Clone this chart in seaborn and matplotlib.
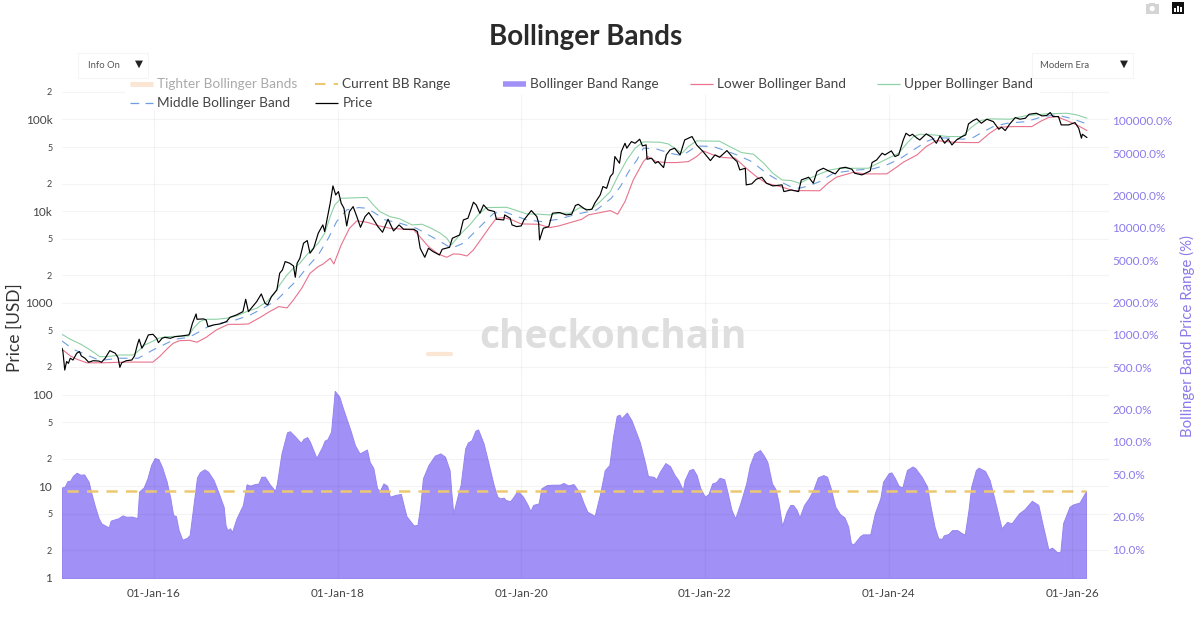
import matplotlib
matplotlib.use("Agg")
import matplotlib.pyplot as plt
from matplotlib.lines import Line2D
from matplotlib.patches import Rectangle, Circle
from matplotlib.ticker import FixedLocator, FixedFormatter, NullLocator
import seaborn as sns

# values, x in decimal years
price_years = [
    2015.00, 2015.01, 2015.03, 2015.05, 2015.07, 2015.09, 2015.12, 2015.16, 2015.19, 2015.21, 2015.25, 2015.29,
    2015.34, 2015.40, 2015.43, 2015.47, 2015.52, 2015.58, 2015.61, 2015.63, 2015.65, 2015.70, 2015.76, 2015.79,
    2015.82, 2015.84, 2015.87, 2015.90, 2015.94, 2015.99, 2016.03, 2016.05, 2016.09, 2016.12, 2016.18, 2016.23,
    2016.30, 2016.38, 2016.39, 2016.42, 2016.46, 2016.47, 2016.54, 2016.57, 2016.59, 2016.65, 2016.72, 2016.79,
    2016.83, 2016.90, 2016.97, 2017.00, 2017.03, 2017.06, 2017.12, 2017.17, 2017.21, 2017.24, 2017.28, 2017.34,
    2017.37, 2017.40, 2017.43, 2017.48, 2017.52, 2017.54, 2017.56, 2017.59, 2017.63, 2017.67, 2017.70, 2017.74,
    2017.79, 2017.84, 2017.86, 2017.92, 2017.95, 2017.98, 2018.01, 2018.04, 2018.07, 2018.10, 2018.13, 2018.17,
    2018.21, 2018.25, 2018.30, 2018.34, 2018.39, 2018.44, 2018.49, 2018.55, 2018.61, 2018.67, 2018.72, 2018.83,
    2018.87, 2018.90, 2018.95, 2018.99, 2019.04, 2019.11, 2019.14, 2019.22, 2019.25, 2019.33, 2019.37, 2019.42,
    2019.48, 2019.51, 2019.55, 2019.59, 2019.64, 2019.71, 2019.73, 2019.81, 2019.82, 2019.88, 2019.90, 2019.95,
    2020.00, 2020.03, 2020.11, 2020.17, 2020.19, 2020.20, 2020.24, 2020.30, 2020.34, 2020.40, 2020.42, 2020.49,
    2020.55, 2020.59, 2020.62, 2020.68, 2020.71, 2020.77, 2020.80, 2020.86, 2020.89, 2020.93, 2020.97, 2021.00,
    2021.02, 2021.07, 2021.09, 2021.13, 2021.15, 2021.20, 2021.24, 2021.29, 2021.32, 2021.36, 2021.37, 2021.42,
    2021.46, 2021.49, 2021.55, 2021.58, 2021.62, 2021.67, 2021.73, 2021.78, 2021.86, 2021.91, 2021.98, 2022.06,
    2022.11, 2022.16, 2022.24, 2022.31, 2022.35, 2022.38, 2022.44, 2022.45, 2022.51, 2022.56, 2022.62, 2022.67,
    2022.74, 2022.84, 2022.86, 2022.94, 2023.02, 2023.05, 2023.13, 2023.18, 2023.22, 2023.25, 2023.29, 2023.34,
    2023.42, 2023.47, 2023.53, 2023.60, 2023.63, 2023.71, 2023.80, 2023.82, 2023.87, 2023.93, 2023.96, 2024.03,
    2024.07, 2024.11, 2024.16, 2024.19, 2024.23, 2024.26, 2024.31, 2024.34, 2024.41, 2024.47, 2024.52, 2024.56,
    2024.61, 2024.65, 2024.69, 2024.74, 2024.80, 2024.84, 2024.87, 2024.92, 2024.96, 2025.01, 2025.07, 2025.14,
    2025.20, 2025.23, 2025.27, 2025.32, 2025.38, 2025.43, 2025.49, 2025.53, 2025.61, 2025.67, 2025.72, 2025.76,
    2025.79, 2025.85, 2025.88, 2025.96, 2026.03, 2026.07, 2026.10, 2026.11, 2026.16,
]
price_usd = [
    320, 294, 185, 229, 219, 249, 238, 282, 294, 264, 249, 225,
    234, 232, 225, 249, 301, 282, 253, 198, 222, 234, 238, 264,
    347, 401, 320, 362, 447, 454, 411, 368, 411, 421, 411, 428,
    435, 447, 466, 598, 757, 662, 668, 650, 550, 574, 589, 624,
    696, 738, 802, 1094, 802, 873, 1031, 1250, 989, 948, 1169, 1383,
    2099, 2286, 2818, 2700, 2525, 1901, 2700, 3062, 4467, 4775, 3475, 3936,
    5741, 7074, 5984, 12190, 18830, 15020, 16330, 12190, 10750, 6897, 9886, 11200,
    8717, 6668, 8717, 9638, 8155, 6780, 5885, 8155, 6081, 7074, 6345, 6345,
    5984, 3935, 3139, 3935, 3622, 3328, 3838, 4036, 5060, 5503, 8017, 8360,
    12500, 11690, 9480, 11690, 10300, 9886, 8155, 8017, 9090, 8360, 7074, 6780,
    6897, 8017, 10140, 8717, 7378, 4853, 6501, 6780, 9480, 9638, 9638, 9090,
    9247, 11490, 11880, 10750, 10300, 10480, 12190, 15020, 18530, 17750, 23810, 25880,
    39350, 33270, 44570, 54950, 48530, 57280, 54950, 60810, 51400, 52720, 36810, 37760,
    33270, 34670, 29850, 41020, 46450, 48530, 41020, 59700, 65010, 52720, 44570, 35560,
    41020, 38640, 45710, 37760, 34670, 28120, 29330, 19320, 19820, 22280, 23400, 20140,
    18830, 19320, 16330, 17020, 16330, 21880, 23400, 20140, 26980, 28120, 29330, 27670,
    25470, 29330, 30060, 28640, 25880, 24830, 27420, 33830, 36150, 42770, 41020, 45360,
    39350, 41020, 59700, 70630, 66070, 68870, 62370, 59700, 69500, 63970, 54950, 66070,
    54950, 60810, 52720, 59700, 65010, 67760, 89330, 97050, 101400, 90780, 100500, 94640,
    78160, 82200, 75510, 89330, 104700, 100500, 103000, 113800, 116700, 109200, 110100, 118800,
    107400, 107400, 87100, 87100, 92300, 80100, 62370, 68900, 63400,
]

upper_years = [
    2015.00, 2015.09, 2015.20, 2015.29, 2015.36, 2015.41, 2015.49, 2015.63, 2015.78, 2015.85, 2015.90, 2015.98,
    2016.05, 2016.14, 2016.38, 2016.43, 2016.50, 2016.57, 2016.68, 2016.79, 2016.90, 2017.01, 2017.12, 2017.23,
    2017.30, 2017.37, 2017.45, 2017.52, 2017.59, 2017.68, 2017.79, 2017.86, 2017.92, 2017.97, 2018.04, 2018.17,
    2018.32, 2018.39, 2018.46, 2018.57, 2018.68, 2018.81, 2018.92, 2019.02, 2019.12, 2019.19, 2019.24, 2019.33,
    2019.44, 2019.53, 2019.62, 2019.84, 2019.95, 2020.06, 2020.20, 2020.31, 2020.41, 2020.53, 2020.64, 2020.75,
    2020.86, 2020.97, 2021.06, 2021.15, 2021.24, 2021.33, 2021.51, 2021.60, 2021.67, 2021.75, 2021.82, 2021.91,
    2022.16, 2022.27, 2022.40, 2022.53, 2022.64, 2022.74, 2022.84, 2022.94, 2023.03, 2023.14, 2023.25, 2023.36,
    2023.47, 2023.62, 2023.78, 2023.85, 2023.96, 2024.11, 2024.20, 2024.27, 2024.34, 2024.49, 2024.65, 2024.80,
    2024.89, 2025.00, 2025.10, 2025.32, 2025.50, 2025.72, 2025.94, 2026.05, 2026.16,
]
upper_usd = [
    454, 401, 356, 314, 282, 259, 259, 270, 270, 312, 347, 378,
    411, 428, 435, 528, 624, 662, 662, 679, 720, 802, 873, 1031,
    1219, 1567, 2015, 2383, 2700, 3475, 4467, 5741, 8717, 11690, 13800, 13950,
    14100, 11690, 9886, 8717, 8220, 7074, 7190, 6501, 5741, 5060, 4276, 5503,
    7074, 9090, 10930, 11010, 10140, 9320, 9247, 9090, 9480, 9480, 10930, 10300,
    12700, 16330, 24830, 36150, 48530, 56890, 56360, 54080, 48530, 42770, 50580, 58290,
    57810, 50580, 43450, 41690, 33270, 25880, 21880, 21530, 20140, 22800, 25470, 28120,
    29330, 29330, 29330, 31910, 36150, 42770, 54950, 65010, 68870, 67760, 65010, 65010,
    80100, 97050, 101400, 100500, 110100, 114800, 116700, 112000, 103000,
]

middle_years = [
    2015.00, 2015.12, 2015.27, 2015.40, 2015.45, 2015.63, 2015.83, 2015.99, 2016.14, 2016.23, 2016.38, 2016.50,
    2016.59, 2016.72, 2016.87, 2017.05, 2017.19, 2017.34, 2017.45, 2017.56, 2017.66, 2017.79, 2017.90, 2017.99,
    2018.10, 2018.23, 2018.32, 2018.41, 2018.52, 2018.68, 2018.86, 2018.99, 2019.12, 2019.24, 2019.37, 2019.48,
    2019.59, 2019.70, 2019.81, 2019.91, 2020.06, 2020.22, 2020.41, 2020.60, 2020.82, 2020.98, 2021.08, 2021.17,
    2021.26, 2021.33, 2021.47, 2021.62, 2021.75, 2021.82, 2021.91, 2022.09, 2022.20, 2022.35, 2022.51, 2022.67,
    2022.82, 2022.93, 2023.03, 2023.14, 2023.25, 2023.40, 2023.62, 2023.83, 2023.98, 2024.12, 2024.27, 2024.41,
    2024.52, 2024.67, 2024.81, 2024.92, 2025.03, 2025.14, 2025.29, 2025.50, 2025.68, 2025.83, 2025.98, 2026.16,
]
middle_usd = [
    384, 312, 270, 238, 238, 249, 249, 306, 362, 401, 421, 486,
    550, 598, 640, 738, 873, 1076, 1383, 1778, 2383, 3328, 5060, 7692,
    10300, 10930, 10750, 9480, 8017, 7378, 6501, 5503, 4656, 3935, 4467, 5741,
    7378, 9480, 9886, 9090, 8017, 7692, 8155, 9247, 10300, 13800, 18530, 26980,
    36150, 48530, 47700, 42770, 40300, 44570, 51400, 50580, 46450, 41020, 34670, 25880,
    21000, 18530, 17750, 18990, 21000, 25880, 27890, 28880, 31910, 37000, 46450, 57280,
    63400, 62370, 60810, 63400, 73300, 83500, 90780, 94640, 107400, 112000, 103000, 89330,
]

lower_years = [
    2015.00, 2015.09, 2015.16, 2015.27, 2015.45, 2015.70, 2015.99, 2016.07, 2016.14, 2016.21, 2016.28, 2016.39,
    2016.47, 2016.57, 2016.68, 2016.81, 2016.94, 2017.03, 2017.16, 2017.26, 2017.36, 2017.45, 2017.52, 2017.61,
    2017.70, 2017.79, 2017.84, 2017.92, 2017.96, 2018.04, 2018.13, 2018.21, 2018.32, 2018.44, 2018.57, 2018.83,
    2018.88, 2018.99, 2019.10, 2019.19, 2019.26, 2019.33, 2019.41, 2019.48, 2019.57, 2019.66, 2019.73, 2019.81,
    2019.90, 2020.00, 2020.19, 2020.31, 2020.41, 2020.66, 2020.73, 2020.86, 2020.97, 2021.05, 2021.13, 2021.22,
    2021.33, 2021.38, 2021.47, 2021.58, 2021.69, 2021.82, 2021.91, 2021.98, 2022.09, 2022.20, 2022.33, 2022.45,
    2022.56, 2022.67, 2022.82, 2022.96, 2023.25, 2023.34, 2023.43, 2023.62, 2023.73, 2023.98, 2024.07, 2024.16,
    2024.31, 2024.41, 2024.52, 2024.71, 2024.87, 2024.98, 2025.10, 2025.20, 2025.36, 2025.56, 2025.65, 2025.74,
    2025.83, 2025.94, 2026.05, 2026.16,
]
lower_usd = [
    312, 264, 243, 222, 222, 226, 226, 264, 312, 362, 387, 390,
    372, 421, 506, 583, 583, 589, 696, 802, 910, 880, 1076, 1442,
    2099, 2484, 2635, 3062, 2655, 4276, 6501, 7820, 7565, 6950, 6501, 6237,
    5503, 4104, 3388, 3139, 3414, 3388, 3246, 3776, 5060, 6780, 8360, 8495,
    8017, 7250, 7190, 6607, 6897, 8155, 9090, 9638, 10140, 9247, 12700, 21880,
    34670, 39350, 34670, 33830, 33830, 34670, 39350, 45360, 41020, 38370, 37760, 29330,
    23810, 20140, 18530, 16750, 16680, 20140, 23400, 26550, 25470, 25470, 29330, 34120,
    41020, 50580, 58760, 56360, 55900, 55900, 70630, 82200, 83500, 83500, 94640, 104700,
    107400, 97050, 87100, 75510,
]

range_years = [
    2015.00, 2015.03, 2015.06, 2015.09, 2015.12, 2015.16, 2015.20, 2015.24, 2015.29, 2015.32, 2015.36, 2015.40,
    2015.43, 2015.51, 2015.53, 2015.58, 2015.61, 2015.66, 2015.70, 2015.76, 2015.82, 2015.84, 2015.89, 2015.93,
    2015.97, 2016.01, 2016.05, 2016.09, 2016.14, 2016.18, 2016.21, 2016.24, 2016.27, 2016.31, 2016.36, 2016.39,
    2016.42, 2016.47, 2016.50, 2016.55, 2016.59, 2016.65, 2016.70, 2016.76, 2016.78, 2016.80, 2016.83, 2016.85,
    2016.90, 2016.97, 2017.01, 2017.05, 2017.09, 2017.14, 2017.17, 2017.21, 2017.26, 2017.32, 2017.34, 2017.39,
    2017.45, 2017.48, 2017.54, 2017.60, 2017.63, 2017.67, 2017.70, 2017.77, 2017.83, 2017.86, 2017.89, 2017.93,
    2017.97, 2018.02, 2018.06, 2018.14, 2018.19, 2018.24, 2018.32, 2018.35, 2018.39, 2018.43, 2018.46, 2018.50,
    2018.54, 2018.57, 2018.63, 2018.69, 2018.71, 2018.75, 2018.81, 2018.83, 2018.87, 2018.90, 2018.93, 2018.99,
    2019.06, 2019.12, 2019.17, 2019.22, 2019.24, 2019.26, 2019.32, 2019.34, 2019.39, 2019.42, 2019.46, 2019.50,
    2019.53, 2019.59, 2019.64, 2019.70, 2019.74, 2019.77, 2019.81, 2019.83, 2019.88, 2019.91, 2019.96, 2020.02,
    2020.07, 2020.10, 2020.13, 2020.19, 2020.22, 2020.28, 2020.35, 2020.42, 2020.46, 2020.51, 2020.57, 2020.64,
    2020.68, 2020.72, 2020.80, 2020.86, 2020.91, 2020.96, 2021.00, 2021.04, 2021.07, 2021.09, 2021.15, 2021.20,
    2021.29, 2021.35, 2021.38, 2021.44, 2021.47, 2021.51, 2021.57, 2021.62, 2021.67, 2021.71, 2021.76, 2021.78,
    2021.83, 2021.87, 2021.91, 2021.95, 2022.00, 2022.04, 2022.08, 2022.12, 2022.16, 2022.21, 2022.24, 2022.29,
    2022.33, 2022.38, 2022.45, 2022.49, 2022.54, 2022.60, 2022.64, 2022.68, 2022.73, 2022.77, 2022.80, 2022.84,
    2022.89, 2022.93, 2022.96, 2023.00, 2023.03, 2023.08, 2023.13, 2023.18, 2023.23, 2023.29, 2023.33, 2023.37,
    2023.42, 2023.47, 2023.52, 2023.56, 2023.59, 2023.62, 2023.69, 2023.72, 2023.80, 2023.85, 2023.91, 2023.94,
    2024.00, 2024.03, 2024.07, 2024.11, 2024.15, 2024.20, 2024.26, 2024.29, 2024.36, 2024.42, 2024.45, 2024.50,
    2024.54, 2024.58, 2024.60, 2024.65, 2024.69, 2024.75, 2024.80, 2024.83, 2024.87, 2024.90, 2024.95, 2024.98,
    2025.05, 2025.10, 2025.16, 2025.23, 2025.29, 2025.34, 2025.42, 2025.48, 2025.56, 2025.63, 2025.67, 2025.74,
    2025.78, 2025.83, 2025.87, 2025.90, 2025.97, 2026.01, 2026.08, 2026.15,
]
range_pct = [
    37.6, 38.2, 43.2, 43.5, 48.4, 51.6, 49.4, 49.8, 42.5, 33.1, 24.8, 19.3,
    17.3, 15.9, 18.4, 19.0, 19.3, 20.6, 20.0, 20.1, 19.4, 34.4, 37.6, 45.7,
    60.9, 70.7, 69.0, 57.9, 42.5, 29.7, 20.8, 20.3, 15.0, 12.2, 12.7, 13.5,
    21.5, 46.6, 52.0, 55.5, 52.8, 44.1, 34.3, 24.8, 16.8, 15.0, 15.6, 14.3,
    19.3, 25.8, 40.2, 39.1, 40.2, 41.0, 47.3, 47.3, 40.4, 34.8, 41.0, 78.2,
    123, 126, 112, 98, 107, 111, 100, 71, 89, 103, 106, 125,
    300, 264, 205, 129, 93, 78, 85, 65, 57, 37, 34.8, 41,
    39, 30.8, 32, 32.7, 27.7, 20.3, 17.4, 16.6, 16.8, 24.8, 45.7, 60.9,
    74.6, 78.2, 72.8, 54.6, 33.1, 21.5, 34.4, 39.6, 87, 99, 104, 127,
    131, 97, 65, 39.6, 30.8, 29.7, 30.2, 28.7, 28.0, 30.2, 35, 30.8,
    25.8, 22.6, 25.8, 26.7, 36.9, 39.6, 39.9, 39.9, 41.4, 39.3, 40.4, 33.1,
    26.7, 22.3, 20.4, 33.1, 54.6, 60.9, 112, 175, 180, 166, 188, 160,
    100, 63, 48, 47.3, 44.8, 52.8, 63.5, 59.5, 49, 44, 35.5, 44,
    54.6, 56, 49, 36.9, 30.8, 32.7, 41, 42, 46.3, 44.8, 35.5, 23.1,
    19.3, 25.8, 41, 60.9, 78.2, 84, 75, 65, 41, 36, 27.7, 16.4,
    22.3, 25.8, 25.8, 23.1, 19.7, 25.8, 29.7, 35.5, 46.7, 49, 47.3, 36.9,
    24.8, 21.2, 19.7, 16.2, 11.3, 11.1, 13.2, 13.7, 13.7, 21.5, 29.7, 42.5,
    50.9, 52, 45.7, 38.8, 37.6, 54.6, 59, 57, 47.3, 38.2, 26.7, 16.2,
    12.6, 12.4, 13.4, 13.8, 15, 15, 14, 13.7, 23.1, 38.2, 54.6, 57.5,
    53.5, 44.1, 27.7, 15.6, 17.9, 17.4, 21.5, 23.5, 28.2, 25.8, 18, 9.9,
    10.3, 9.4, 9.3, 17.4, 24.8, 26.1, 27.2, 34.8,
]

current_years = [2015.05, 2026.15]
current_pct = [34.8, 34.8]
tighter_years = [2018.99, 2019.24]
tighter_usd = [279, 279]

left_ticks = [1, 2, 5, 10, 20, 50, 100, 200, 500, 1000, 2000, 5000, 10000, 20000, 50000, 100000, 200000]
left_labels = ["1", "2", "5", "10", "2", "5", "100", "2", "5", "1000", "2", "5", "10k", "2", "5", "100k", "2"]
right_ticks = [10, 20, 50, 100, 200, 500, 1000, 2000, 5000, 10000, 20000, 50000, 100000]
right_labels = ["10.0%", "20.0%", "50.0%", "100.0%", "200.0%", "500.0%", "1000.0%", "2000.0%", "5000.0%",
                "10000.0%", "20000.0%", "50000.0%", "100000.0%"]
x_ticks = [2016, 2018, 2020, 2022, 2024, 2026]
x_labels = ["01-Jan-16", "01-Jan-18", "01-Jan-20", "01-Jan-22", "01-Jan-24", "01-Jan-26"]

PURPLE = "#a191f7"
PURPLE_TEXT = "#8b7bea"
ORANGE = "#ecc873"
PEACH = "#fbe5d3"
GREEN = "#8ed1a6"
RED = "#e9728c"
BLUE = "#6d9ee0"
TEXT = "#444444"

sns.set_theme(style="white")
plt.rcParams["font.family"] = ["Lato", "DejaVu Sans"]

W, H = 1200, 627
fig = plt.figure(figsize=(W / 100, H / 100), dpi=100)
ax = fig.add_axes([62 / W, (H - 578) / H, 1047 / W, 487 / H])
ax2 = ax.twinx()

ax.set_yscale("log")
ax2.set_yscale("log")
ax.set_ylim(1, 204000)
ax2.set_ylim(5.36, 190000)
ax.set_xlim(2015, 2026.4)

# range area and its reference level sit on the right hand axis
ax2.fill_between(range_years, range_pct, 5.36, color=PURPLE, edgecolor="#9685f0", linewidth=0.7)
sns.lineplot(x=current_years, y=current_pct, ax=ax2, color=ORANGE, linewidth=1.8, linestyle=(0, (4.5, 3.3)))

sns.lineplot(x=tighter_years, y=tighter_usd, ax=ax, color=PEACH, linewidth=3)
sns.lineplot(x=upper_years, y=upper_usd, ax=ax, color=GREEN, linewidth=0.8)
sns.lineplot(x=lower_years, y=lower_usd, ax=ax, color=RED, linewidth=0.8)
sns.lineplot(x=middle_years, y=middle_usd, ax=ax, color=BLUE, linewidth=0.8, linestyle=(0, (7.5, 6.5)))
sns.lineplot(x=price_years, y=price_usd, ax=ax, color="black", linewidth=0.85)
ax.set_zorder(ax2.get_zorder() + 1)
ax.patch.set_visible(False)

ax.yaxis.set_major_locator(FixedLocator(left_ticks))
ax.yaxis.set_major_formatter(FixedFormatter(left_labels))
ax.yaxis.set_minor_locator(NullLocator())
ax2.yaxis.set_major_locator(FixedLocator(right_ticks))
ax2.yaxis.set_major_formatter(FixedFormatter(right_labels))
ax2.yaxis.set_minor_locator(NullLocator())
ax.set_xticks(x_ticks)
ax.set_xticklabels(x_labels, fontsize=8.5, color=TEXT)

ax.tick_params(axis="both", length=0)
ax.tick_params(axis="y", pad=7)
ax.tick_params(axis="x", pad=7)
ax2.tick_params(axis="y", length=0, pad=2.2, labelsize=8.5, labelcolor=PURPLE_TEXT)
for lab, txt in zip(ax.get_yticklabels(), left_labels):
    lab.set_fontsize(6.5 if len(txt) == 1 and txt != "1" else 8.5)
    lab.set_color(TEXT)

# faint black so the grid just shows through the area as well
ax.grid(True, which="major", color="black", alpha=0.045, linewidth=0.8)
ax.set_axisbelow(True)
for a in (ax, ax2):
    for s in a.spines.values():
        s.set_visible(False)

# plotly's legend box hides the grid behind it
for x0, y0, x1, y1 in [(125, 73, 1040, 95), (125, 95, 380, 110)]:
    fig.add_artist(Rectangle((x0 / W, 1 - y1 / H), (x1 - x0) / W, (y1 - y0) / H, transform=fig.transFigure,
                             facecolor="white", edgecolor="none", zorder=2))

# legend: plotly spaces the columns unevenly, so one legend per column
legend_cols = [
    (130, [("Tighter Bollinger Bands", Line2D([], [], color=PEACH, linewidth=3.5, solid_capstyle="butt")),
           ("Middle Bollinger Band", Line2D([], [], color=BLUE, linewidth=0.9, linestyle=(0, (7, 5))))]),
    (315, [("Current BB Range", Line2D([], [], color=ORANGE, linewidth=1.5, linestyle=(0, (5, 4)))),
           ("Price", Line2D([], [], color="black", linewidth=0.9, solid_capstyle="butt"))]),
    (503, [("Bollinger Band Range", Line2D([], [], color=PURPLE, linewidth=4, solid_capstyle="butt"))]),
    (690, [("Lower Bollinger Band", Line2D([], [], color=RED, linewidth=0.9, solid_capstyle="butt"))]),
    (877, [("Upper Bollinger Band", Line2D([], [], color=GREEN, linewidth=0.9, solid_capstyle="butt"))]),
]
for left_px, entries in legend_cols:
    leg = fig.legend(
        [e[1] for e in entries], [e[0] for e in entries],
        loc="upper left", bbox_to_anchor=(left_px / W, 1 - 78.5 / H), bbox_transform=fig.transFigure,
        frameon=False, fontsize=9.85, handlelength=1.7, handletextpad=0.3, labelspacing=0.5,
        borderpad=0, borderaxespad=0,
    )
    for t in leg.get_texts():
        t.set_color("#aaaaaa" if t.get_text().startswith("Tighter") else TEXT)

# overlay in pixel coordinates for title, watermark, dropdowns and the mode bar
over = fig.add_axes([0, 0, 1, 1], zorder=10)
over.set_xlim(0, W)
over.set_ylim(H, 0)
over.axis("off")
over.patch.set_alpha(0)

over.text(585.5, 37, "Bollinger Bands", ha="center", va="center", fontsize=20, fontweight="bold", color="#2a2a2a")
over.text(612.5, 337, "checkonchain", ha="center", va="center", fontsize=28, fontweight="bold",
          color="#dedede", family="Open Sans", zorder=0)
over.text(15, 328, "Price [USD]", rotation=90, ha="center", va="center", fontsize=12.5, color="#333333")
over.text(1187, 336, "Bollinger Band Price Range (%)", rotation=90, ha="center", va="center",
          fontsize=10.8, color=PURPLE_TEXT)

for x0, x1, label, arrow_x in [(78, 148, "Info On", 139), (1032, 1133, "Modern Era", 1124)]:
    over.add_patch(Rectangle((x0, 53), x1 - x0, 25, facecolor="white", edgecolor="#f5f5f5", linewidth=0.8))
    over.text(x0 + 10 if x0 < 100 else x0 + 8, 65, label, ha="left", va="center", fontsize=6.8, color="#555555")
    over.text(arrow_x, 64.5, "▼", ha="center", va="center", fontsize=7.5, color="#222222")

# mode bar icons
over.add_patch(Rectangle((1146, 4), 12.5, 9.5, facecolor="#d4d4d4", edgecolor="none"))
over.add_patch(Rectangle((1149, 2.8), 6, 2, facecolor="#d4d4d4", edgecolor="none"))
over.add_patch(Circle((1152.2, 8.6), 2.6, facecolor="white", edgecolor="none"))
over.add_patch(Rectangle((1172, 2), 12, 12, facecolor="#111111", edgecolor="none"))
for bar_x, bar_top in [(1174.2, 8), (1177.2, 6), (1180.2, 7)]:
    over.add_patch(Rectangle((bar_x, bar_top), 1.5, 12 - bar_top, facecolor="white", edgecolor="none"))

fig.savefig("out.png", dpi=100)
